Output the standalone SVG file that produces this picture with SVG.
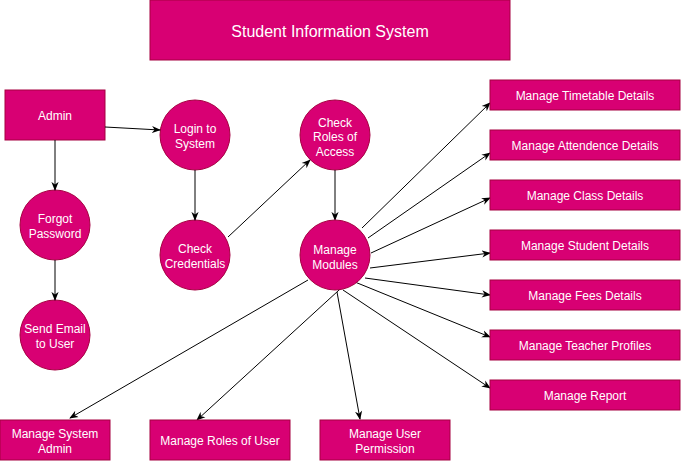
<svg xmlns="http://www.w3.org/2000/svg" width="681" height="461" viewBox="0 0 681 461">
<defs>
<marker id="arr" viewBox="0 0 10 10" refX="9" refY="5" markerWidth="9" markerHeight="9" markerUnits="userSpaceOnUse" orient="auto">
<path d="M0,1 L10,5 L0,9 L3,5 z" fill="#000"/>
</marker>
<style>
.n{fill:#d80073;stroke:#a50040;stroke-width:1}
.t{fill:#fff;font-family:"Liberation Sans",Arial,sans-serif;font-size:12px;text-anchor:middle}
.c{stroke:#000;stroke-width:1;fill:none;marker-end:url(#arr)}
</style>
</defs>
<rect width="681" height="461" fill="#fff"/>
<g id="title"><rect class="n" x="150" y="0" width="360" height="60"/><text class="t" x="330" y="37" style="font-size:16px">Student Information System</text></g>
<g id="admin"><rect class="n" x="5" y="90" width="100" height="50"/><text class="t" x="55" y="120">Admin</text></g>
<g id="login"><circle class="n" cx="195" cy="135" r="35"/><text class="t" x="195" y="133">Login to</text><text class="t" x="195" y="148">System</text></g>
<g id="forgot"><circle class="n" cx="55" cy="225" r="35"/><text class="t" x="55" y="223">Forgot</text><text class="t" x="55" y="238">Password</text></g>
<g id="sendemail"><circle class="n" cx="55" cy="335" r="35"/><text class="t" x="55" y="333">Send Email</text><text class="t" x="55" y="348">to User</text></g>
<g id="checkcred"><circle class="n" cx="195" cy="255" r="35"/><text class="t" x="195" y="253">Check</text><text class="t" x="195" y="268">Credentials</text></g>
<g id="checkroles"><circle class="n" cx="335" cy="135" r="35"/><text class="t" x="335" y="127">Check</text><text class="t" x="335" y="141">Roles of</text><text class="t" x="335" y="156">Access</text></g>
<g id="connectors">
<line class="c" x1="105" y1="127" x2="160" y2="130"/>
<line class="c" x1="55" y1="140" x2="55" y2="190"/>
<line class="c" x1="55" y1="260" x2="55" y2="300"/>
<line class="c" x1="195" y1="170" x2="195" y2="220"/>
<line class="c" x1="228" y1="237" x2="310" y2="160"/>
<line class="c" x1="335" y1="170" x2="335" y2="220"/>
<line class="c" x1="362" y1="228" x2="490" y2="103"/>
<line class="c" x1="368" y1="238" x2="490" y2="153"/>
<line class="c" x1="371" y1="253" x2="490" y2="198"/>
<line class="c" x1="370" y1="268" x2="490" y2="253"/>
<line class="c" x1="365" y1="278" x2="490" y2="295"/>
<line class="c" x1="350" y1="280" x2="490" y2="337"/>
<line class="c" x1="343" y1="290" x2="490" y2="388"/>
<line class="c" x1="308" y1="280" x2="70" y2="418"/>
<line class="c" x1="350" y1="280" x2="197" y2="420"/>
<line class="c" x1="337" y1="292" x2="360" y2="419"/>
</g>
<g id="modules"><circle class="n" cx="335" cy="255" r="35"/><text class="t" x="335" y="254">Manage</text><text class="t" x="335" y="269">Modules</text></g>
<g id="timetable"><rect class="n" x="490" y="80" width="190" height="30"/><text class="t" x="585" y="100">Manage Timetable Details</text></g>
<g id="attendence"><rect class="n" x="490" y="130" width="190" height="30"/><text class="t" x="585" y="150">Manage Attendence Details</text></g>
<g id="class"><rect class="n" x="490" y="180" width="190" height="30"/><text class="t" x="585" y="200">Manage Class Details</text></g>
<g id="student"><rect class="n" x="490" y="230" width="190" height="30"/><text class="t" x="585" y="250">Manage Student Details</text></g>
<g id="fees"><rect class="n" x="490" y="280" width="190" height="30"/><text class="t" x="585" y="300">Manage Fees Details</text></g>
<g id="teacher"><rect class="n" x="490" y="330" width="190" height="30"/><text class="t" x="585" y="350">Manage Teacher Profiles</text></g>
<g id="report"><rect class="n" x="490" y="380" width="190" height="30"/><text class="t" x="585" y="400">Manage Report</text></g>
<g id="sysadmin"><rect class="n" x="0" y="420" width="110" height="40"/><text class="t" x="55" y="438">Manage System</text><text class="t" x="55" y="453">Admin</text></g>
<g id="roles"><rect class="n" x="150" y="420" width="140" height="40"/><text class="t" x="220" y="445">Manage Roles of User</text></g>
<g id="permission"><rect class="n" x="320" y="420" width="130" height="40"/><text class="t" x="385" y="438">Manage User</text><text class="t" x="385" y="453">Permission</text></g>
</svg>
